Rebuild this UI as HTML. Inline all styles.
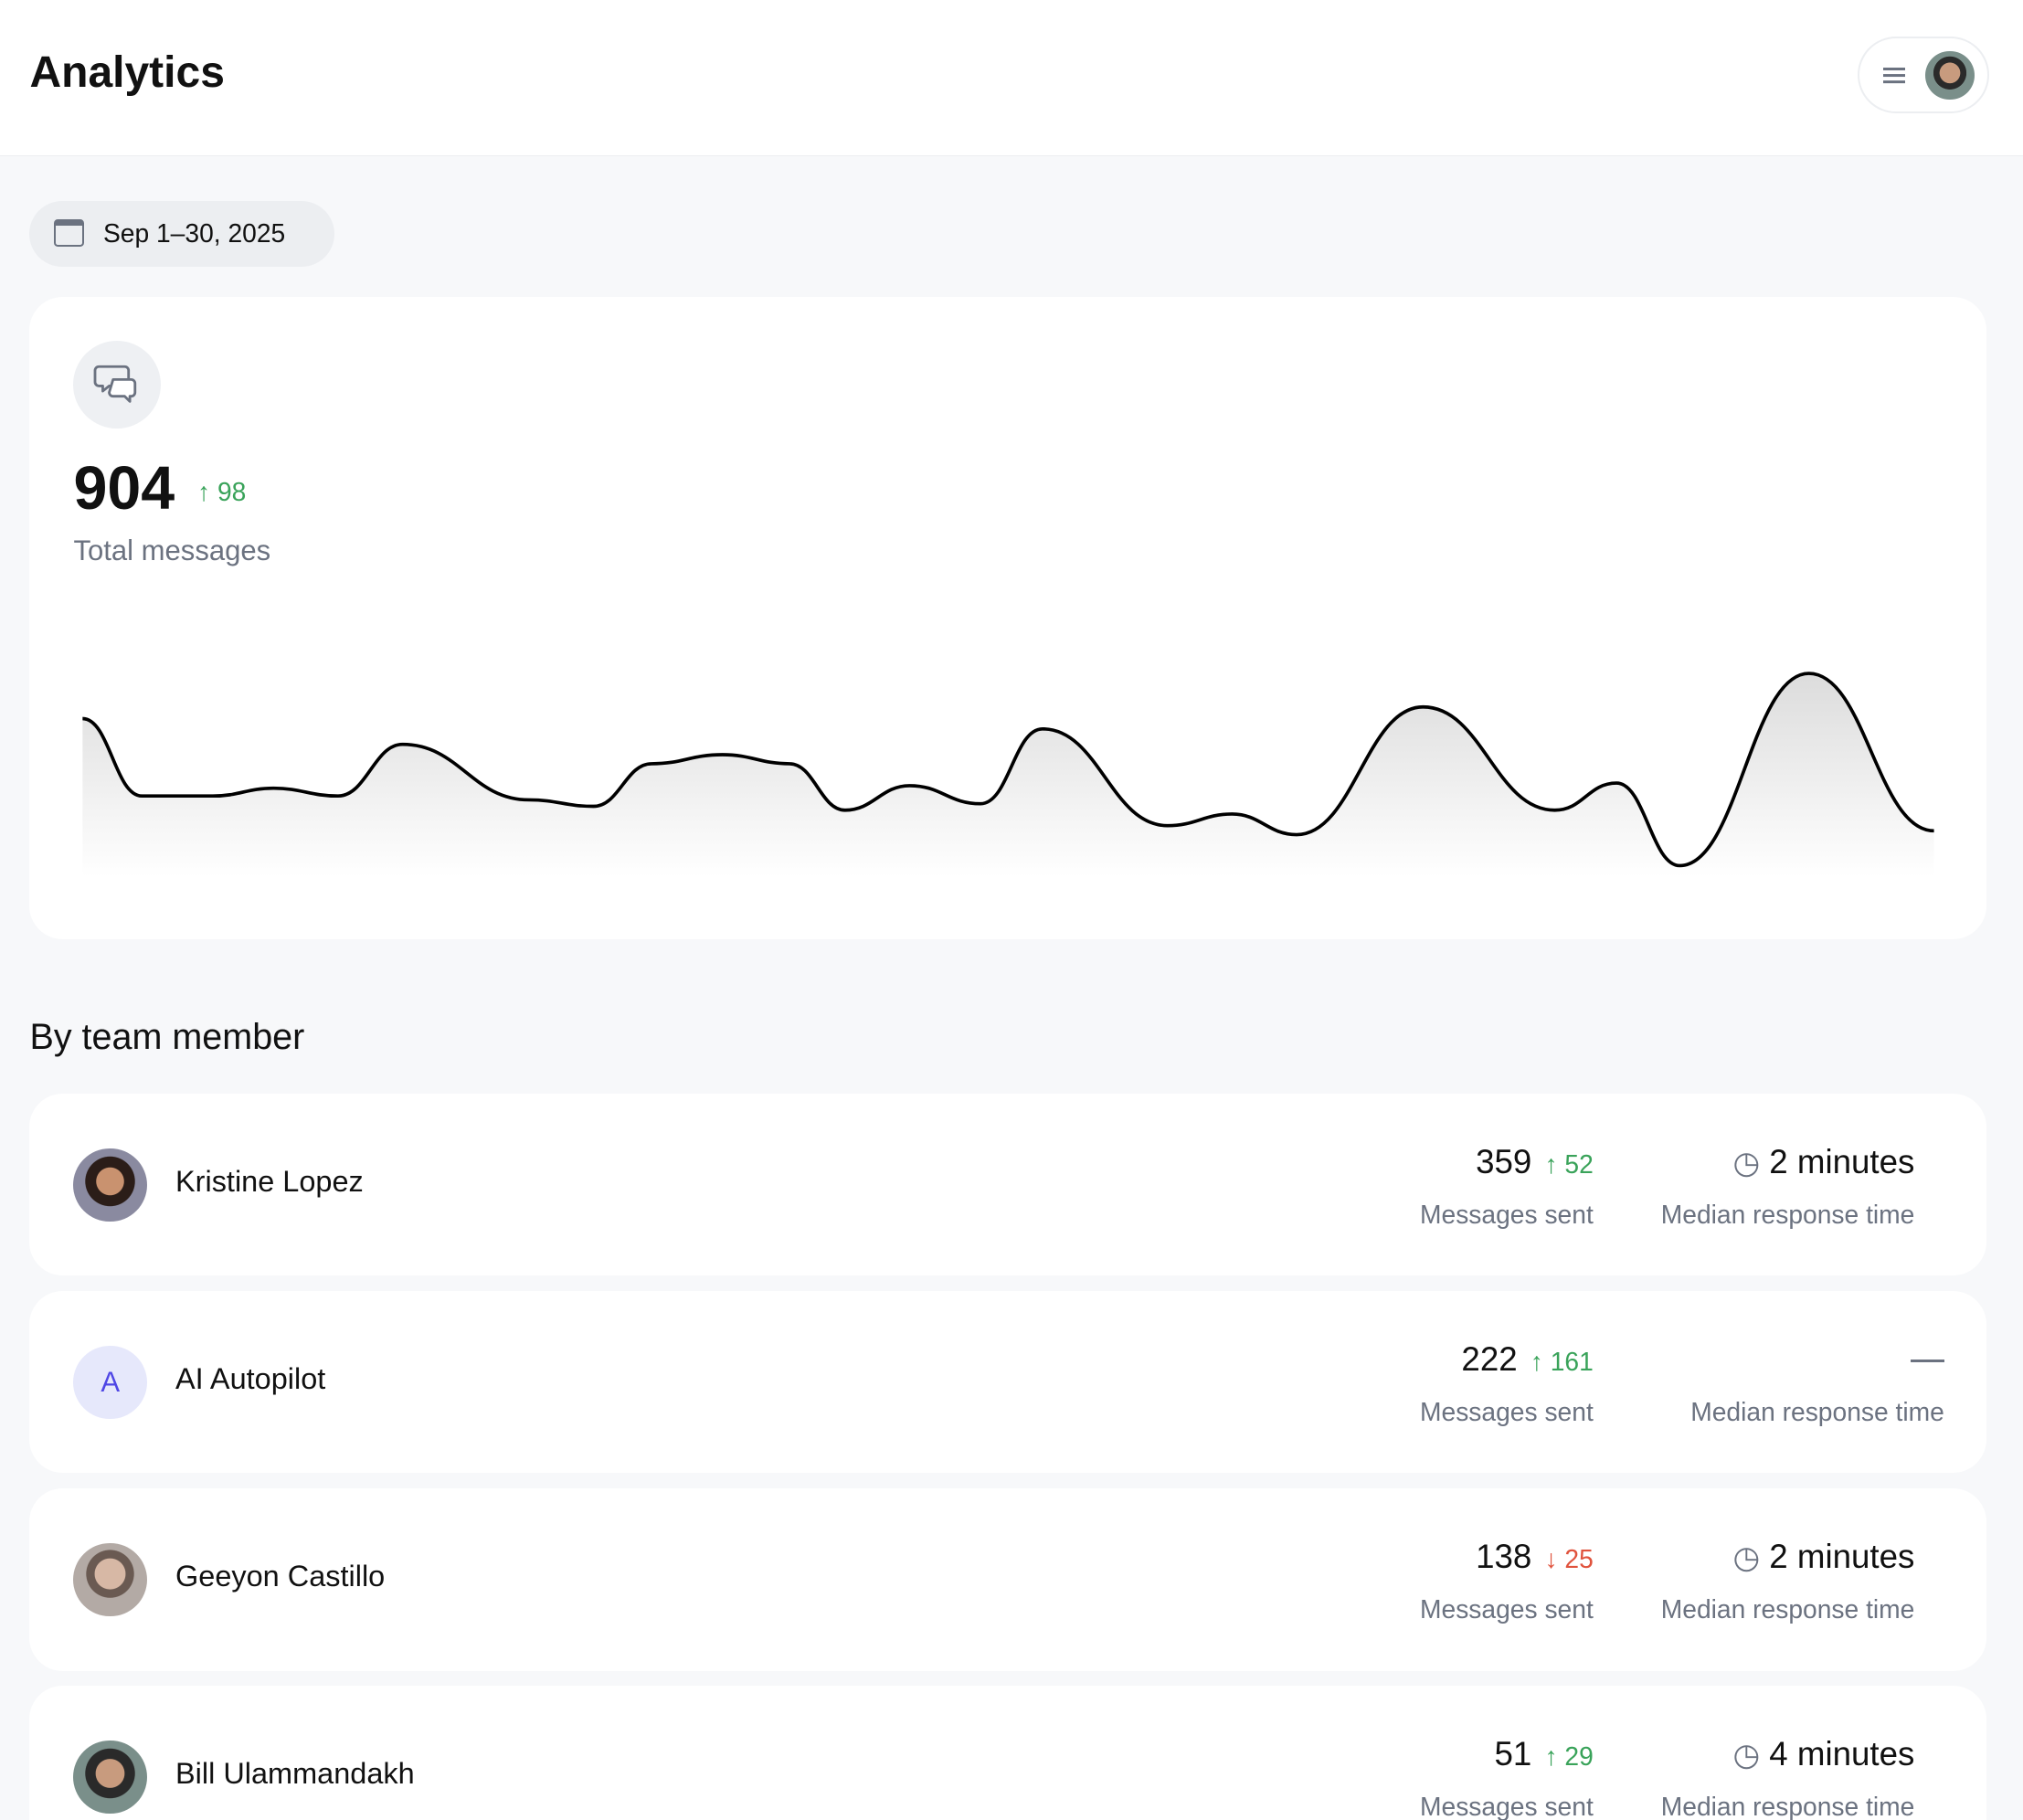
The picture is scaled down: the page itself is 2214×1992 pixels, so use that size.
<!DOCTYPE html>
<html><head><meta charset="utf-8"><style>
*{box-sizing:border-box;margin:0;padding:0}
html,body{width:2214px;height:1992px;overflow:hidden}
body{background:#f7f8fa;font-family:"Liberation Sans",sans-serif;color:#111}
#w{zoom:1.41199;width:1568px;height:1411px;position:relative}
.abs{position:absolute}
.hdr{left:0;top:0;width:1568px;height:121px;background:#fff;border-bottom:1px solid #eceef1}
.card{background:#fff;border-radius:26px;left:23px;width:1517px}
.gray{color:#6b7280}
.green{color:#3aa35a}
.red{color:#e0533d}
.av{width:57px;height:57px;border-radius:50%;left:34px;top:42px}
.name{left:113px;top:55px;font-size:23px}
.num{font-size:26px;text-align:right;white-space:nowrap}
.num span.d{font-size:20px;margin-left:10px}
.lab{font-size:20px;color:#6b7280;text-align:right}
</style></head><body><div id="w">
<div class="abs hdr">
 <div class="abs" style="left:23px;top:37px;font-size:34px;font-weight:bold">Analytics</div>
 <div class="abs" style="left:1440px;top:28px;width:102px;height:60px;border:2px solid #eceef1;border-radius:30px;background:#fff">
  <div class="abs" style="left:18px;top:23px;width:17px;height:2px;background:#6b7280;box-shadow:0 5px 0 #6b7280,0 10px 0 #6b7280"></div>
  <div class="abs" style="left:51px;top:10px;width:38px;height:38px;border-radius:50%;background:radial-gradient(circle at 50% 45%,#c89b7e 0 28%,#2a2a2a 29% 45%,#7a8f8a 46%)"></div>
 </div>
</div>
<div class="abs" style="left:23px;top:156px;width:236px;height:51px;background:#eceef1;border-radius:26px">
 <div class="abs" style="left:19px;top:14px;width:23px;height:21px;border:2px solid #6b7280;border-radius:3px;border-top-width:5px"></div>
 <div class="abs" style="left:57px;top:13px;font-size:20px">Sep 1–30, 2025</div>
</div>
<div class="abs card" style="top:230px;height:498px">
 <div class="abs" style="left:34px;top:34px;width:68px;height:68px;border-radius:50%;background:#eef0f3">
  <svg width="68" height="68" viewBox="0 0 68 68"><g fill="none" stroke="#6b7280" stroke-width="2" stroke-linejoin="round"><path d="M20 20h20a3 3 0 0 1 3 3v9a3 3 0 0 1-3 3h-12l-5 4v-4h-3a3 3 0 0 1-3-3v-9a3 3 0 0 1 3-3z"/><path d="M31 30h14a3 3 0 0 1 3 3v7a3 3 0 0 1-3 3h-1v4l-4-4h-9a3 3 0 0 1-3-3z" fill="#fff"/></g></svg>
 </div>
 <div class="abs" style="left:34px;top:122px;font-size:47px;font-weight:bold">904</div>
 <div class="abs green" style="left:130px;top:140px;font-size:20px">↑ 98</div>
 <div class="abs gray" style="left:34px;top:184px;font-size:22px">Total messages</div>
</div>
<svg class="abs" style="left:0;top:0" width="1568" height="740">
 <defs><linearGradient id="g" x1="0" y1="0" x2="0" y2="1"><stop offset="0" stop-color="#dcdcdc"/><stop offset="1" stop-color="#fff"/></linearGradient></defs>
 <path d="M64,557 C85,557 89,617 110,617 C135,617 140,617 165,617 C186,617 191,611 212,611 C234,611 240,617 262,617 C284,617 290,577 312,577 C356,577 366,620 410,620 C432,620 438,625 460,625 C480,625 485,592 505,592 C530,592 535,585 560,585 C583,585 589,592 612,592 C631,592 636,628 655,628 C677,628 683,609 705,609 C730,609 735,623 760,623 C782,623 786,565 808,565 C852,565 861,640 905,640 C927,640 933,631 955,631 C977,631 983,647 1005,647 C1049,647 1059,548 1103,548 C1149,548 1159,628 1205,628 C1227,628 1231,607 1253,607 C1275,607 1280,671 1302,671 C1347,671 1357,522 1402,522 C1446,522 1455,644 1499,644 L1499,680 L64,680 Z" fill="url(#g)"/>
 <path d="M64,557 C85,557 89,617 110,617 C135,617 140,617 165,617 C186,617 191,611 212,611 C234,611 240,617 262,617 C284,617 290,577 312,577 C356,577 366,620 410,620 C432,620 438,625 460,625 C480,625 485,592 505,592 C530,592 535,585 560,585 C583,585 589,592 612,592 C631,592 636,628 655,628 C677,628 683,609 705,609 C730,609 735,623 760,623 C782,623 786,565 808,565 C852,565 861,640 905,640 C927,640 933,631 955,631 C977,631 983,647 1005,647 C1049,647 1059,548 1103,548 C1149,548 1159,628 1205,628 C1227,628 1231,607 1253,607 C1275,607 1280,671 1302,671 C1347,671 1357,522 1402,522 C1446,522 1455,644 1499,644" fill="none" stroke="#000" stroke-width="2.6"/>
</svg>
<div class="abs" style="left:23px;top:788px;font-size:28px">By team member</div>

<div class="abs card" style="top:848px;height:141px">
 <div class="abs av" style="background:radial-gradient(circle at 50% 45%,#c9926f 0 25%,#2b1d18 26% 45%,#8a8aa0 46%)"></div>
 <div class="abs name">Kristine Lopez</div>
 <div class="abs num" style="right:305px;top:38px">359<span class="green d">↑ 52</span></div>
 <div class="abs lab" style="right:305px;top:82px">Messages sent</div>
 <div class="abs num" style="right:56px;top:38px"><span class="gray" style="font-size:24px">◷</span> 2 minutes</div>
 <div class="abs lab" style="right:56px;top:82px">Median response time</div>
</div>
<div class="abs card" style="top:1001px;height:141px">
 <div class="abs av" style="background:#e6e8fb;color:#4f46e5;font-size:22px;text-align:center;line-height:57px">A</div>
 <div class="abs name">AI Autopilot</div>
 <div class="abs num" style="right:305px;top:38px">222<span class="green d">↑ 161</span></div>
 <div class="abs lab" style="right:305px;top:82px">Messages sent</div>
 <div class="abs" style="right:33px;top:53px;width:26px;height:2px;background:#6b7280"></div>
 <div class="abs lab" style="right:33px;top:82px">Median response time</div>
</div>
<div class="abs card" style="top:1154px;height:141px">
 <div class="abs av" style="background:radial-gradient(circle at 50% 42%,#d7b8a5 0 27%,#6a5a52 28% 42%,#b3aaa5 43%)"></div>
 <div class="abs name">Geeyon Castillo</div>
 <div class="abs num" style="right:305px;top:38px">138<span class="red d">↓ 25</span></div>
 <div class="abs lab" style="right:305px;top:82px">Messages sent</div>
 <div class="abs num" style="right:56px;top:38px"><span class="gray" style="font-size:24px">◷</span> 2 minutes</div>
 <div class="abs lab" style="right:56px;top:82px">Median response time</div>
</div>
<div class="abs card" style="top:1307px;height:141px">
 <div class="abs av" style="background:radial-gradient(circle at 50% 45%,#c89b7e 0 26%,#2a2a2a 27% 45%,#7a8f8a 46%)"></div>
 <div class="abs name">Bill Ulammandakh</div>
 <div class="abs num" style="right:305px;top:38px">51<span class="green d">↑ 29</span></div>
 <div class="abs lab" style="right:305px;top:82px">Messages sent</div>
 <div class="abs num" style="right:56px;top:38px"><span class="gray" style="font-size:24px">◷</span> 4 minutes</div>
 <div class="abs lab" style="right:56px;top:82px">Median response time</div>
</div>
</div></body></html>
